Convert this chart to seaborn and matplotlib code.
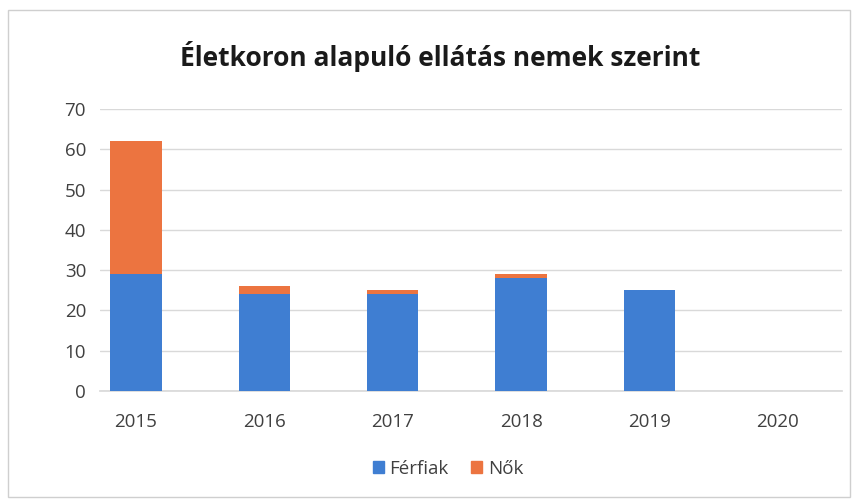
import matplotlib
matplotlib.use("Agg")
import matplotlib.pyplot as plt
import seaborn as sns
import pandas as pd
from matplotlib.patches import Rectangle, Patch

years = ["2015", "2016", "2017", "2018", "2019", "2020"]
ferfiak = [29, 24, 24, 28, 25, 0]
nok = [33, 2, 1, 1, 0, 0]
yticks = [0, 10, 20, 30, 40, 50, 60, 70]

blue = "#3F7ED2"
orange = "#EC7440"

sns.set_theme(style="white")
plt.rcParams['font.family'] = ['Open Sans', 'DejaVu Sans']

df = pd.DataFrame({"year": years, "Férfiak": ferfiak, "Nők": nok})
df["total"] = df["Férfiak"] + df["Nők"]

fig = plt.figure(figsize=(8.61, 5.04), dpi=100)
ax = fig.add_axes([100/861, (504-391)/504, (842-100)/861, (391-109)/504])

sns.barplot(data=df, x="year", y="total", order=years, color=orange, width=0.4,
            saturation=1, ax=ax, zorder=3, linewidth=0)
sns.barplot(data=df, x="year", y="Férfiak", order=years, color=blue, width=0.4,
            saturation=1, ax=ax, zorder=4, linewidth=0)

ax.set_ylim(0, 70)
ax.set_xlim(-0.28, 5.5)
ax.set_yticks(yticks)
ax.set_yticklabels([str(v) for v in yticks])
ax.yaxis.grid(True, color="#D9D9D9", linewidth=1, zorder=0)
ax.set_axisbelow(True)
for s in ["top", "right", "left"]:
    ax.spines[s].set_visible(False)
ax.spines["bottom"].set_color("#D9D9D9")
ax.set_xlabel("")
ax.set_ylabel("")
ax.tick_params(axis="both", length=0, labelsize=13.5, labelcolor="#404040")
ax.tick_params(axis="x", pad=16)
ax.tick_params(axis="y", pad=10)

fig.text(440/861, 1 - 57/504, "Életkoron alapuló ellátás nemek szerint",
         ha="center", va="center", fontsize=19, fontweight="bold", color="#1a1a1a")

handles = [Patch(color=blue, label="Férfiak"), Patch(color=orange, label="Nők")]
fig.legend(handles=handles, loc="center", bbox_to_anchor=(448/861, 1 - 469/504),
           ncol=2, frameon=False, fontsize=13.5, handlelength=0.6, handleheight=0.6,
           handletextpad=0.3, columnspacing=1.2, labelcolor="#404040")

fig.patches.append(Rectangle((8/861, 1 - 497/504), (850-8)/861, (497-10)/504,
                             transform=fig.transFigure, fill=False,
                             edgecolor="#CFCFCF", linewidth=1))

fig.savefig("out.png", dpi=100)
